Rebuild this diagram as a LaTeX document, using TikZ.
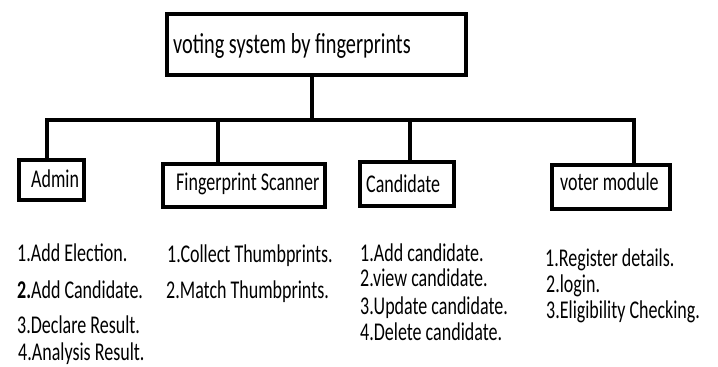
\documentclass[tikz,border=0pt]{standalone}
\usepackage{fontspec}
\setmainfont{Carlito}
\newcommand\stretchtxt[1]{\scalebox{1}[1.42]{#1}}
\tikzset{
  box/.style={draw=black, line width=4pt, inner sep=0pt, fill=white},
  conn/.style={draw=black, line width=3.5pt, line join=miter},
  lbl/.style={anchor=base west, inner sep=0pt, font=\fontsize{18}{18}\selectfont},
  ttl/.style={anchor=base west, inner sep=0pt, font=\fontsize{20.3}{20}\selectfont},
}
\begin{document}
\begin{tikzpicture}[x=1pt,y=-1pt]
\useasboundingbox (0,0) rectangle (718,367);
% boxes
\node[box, minimum width=299pt, minimum height=61pt] (title) at (316.5,44.5) {};
\node[box, minimum width=65pt, minimum height=40pt] (admin) at (51.5,180) {};
\node[box, minimum width=162pt, minimum height=43pt] (scan) at (244,185.5) {};
\node[box, minimum width=94pt, minimum height=44pt] (cand) at (407,184) {};
\node[box, minimum width=118pt, minimum height=44pt] (voter) at (611,187) {};
% junctions
\coordinate (bus) at (312,120);
\coordinate (j1) at (47,120);
\coordinate (j2) at (218,120);
\coordinate (j3) at (410,120);
\coordinate (j4) at (634,120);
% connectors
\draw[conn] (title.south -| bus) -- (bus);
\draw[conn] (j1 |- admin.north) -- (j1) -- (j4) -- (j4 |- voter.north);
\draw[conn] (j2) -- (j2 |- scan.north);
\draw[conn] (j3) -- (j3 |- cand.north);
% box texts
\node[ttl] (tt) at (173,53) {\stretchtxt{voting system by fingerprints}};
\node[lbl] (ta) at (31,187) {\stretchtxt{Admin}};
\node[lbl] (ts) at (176,190) {\stretchtxt{Fingerprint Scanner}};
\node[lbl] (tc) at (366,192) {\stretchtxt{Candidate}};
\node[lbl] (tv) at (560,190) {\stretchtxt{voter module}};
% admin list
\node[lbl] (a1) at (17,261) {\stretchtxt{1.Add Election.}};
\node[lbl] (a2) at (17,298) {\stretchtxt{\textbf{2.}Add Candidate.}};
\node[lbl] (a3) at (17,333) {\stretchtxt{3.Declare Result.}};
\node[lbl] (a4) at (18,360) {\stretchtxt{4.Analysis Result.}};
% scanner list
\node[lbl] (s1) at (167,262) {\stretchtxt{1.Collect Thumbprints.}};
\node[lbl] (s2) at (166,298) {\stretchtxt{2.Match Thumbprints.}};
% candidate list
\node[lbl] (c1) at (360,261) {\stretchtxt{1.Add candidate.}};
\node[lbl] (c2) at (360,286) {\stretchtxt{2.view candidate.}};
\node[lbl] (c3) at (360,314) {\stretchtxt{3.Update candidate.}};
\node[lbl] (c4) at (360,340) {\stretchtxt{4.Delete candidate.}};
% voter list
\node[lbl] (v1) at (545,266) {\stretchtxt{1.Register details.}};
\node[lbl] (v2) at (546,292) {\stretchtxt{2.login.}};
\node[lbl] (v3) at (546,318) {\stretchtxt{3.Eligibility Checking.}};
\end{tikzpicture}
\end{document}
